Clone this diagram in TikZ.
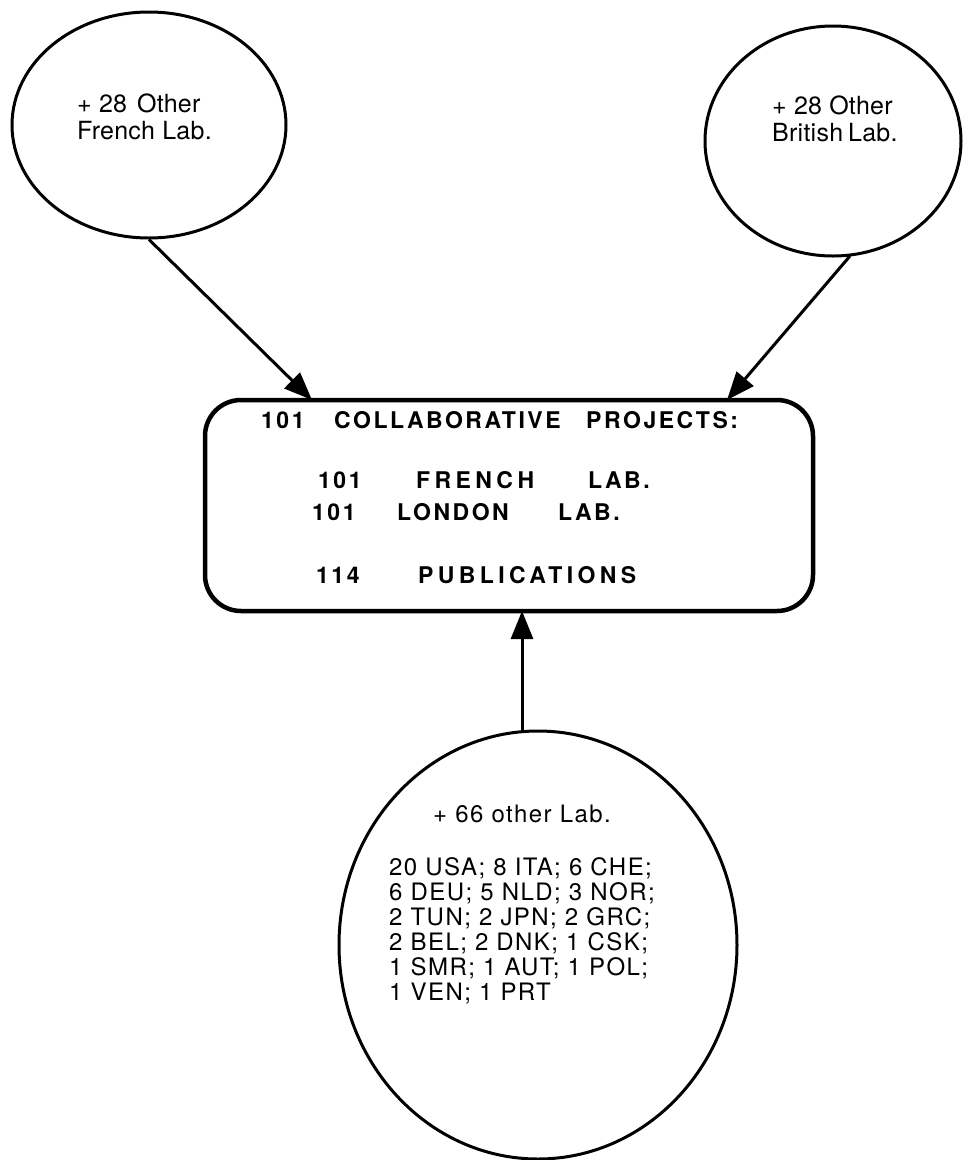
\documentclass[tikz,border=0pt]{standalone}
\usepackage{fontspec}
\setmainfont{TeX Gyre Heros}
\newfontfamily\labfont[LetterSpace=1]{TeX Gyre Heros}
\newfontfamily\listfont[LetterSpace=6]{TeX Gyre Heros}
\newfontfamily\boxfont[LetterSpace=11]{TeX Gyre Heros}
\newcommand{\widespaced}[1]{{\addfontfeature{LetterSpace=19}#1}}
\usetikzlibrary{shapes.geometric,arrows.meta}
\begin{document}
\begin{tikzpicture}[x=1pt,y=-1pt,
  oval/.style={draw, ellipse, line width=3pt, inner sep=0pt},
  projbox/.style={draw, line width=4.5pt, rounded corners=36pt, inner sep=0pt},
  lab/.style={anchor=base west, inner sep=0pt, font=\labfont\fontsize{25}{29}\selectfont},
  lst/.style={anchor=base west, inner sep=0pt, font=\listfont\fontsize{24}{28}\selectfont},
  boxtxt/.style={anchor=base west, inner sep=0pt, font=\boxfont\bfseries\fontsize{23}{27}\selectfont},
  arr/.style={line width=3pt, -{Triangle[length=28pt,width=22pt]}}]
\useasboundingbox (0,0) rectangle (963,1160);
% shapes
\node[oval, minimum width=274pt, minimum height=226pt] (fr) at (149,125) {};
\node[oval, minimum width=256pt, minimum height=230pt] (br) at (833,141) {};
\node[projbox, minimum width=608pt, minimum height=211pt] (box) at (509,505.5) {};
\node[oval, minimum width=398pt, minimum height=428pt] (oth) at (538,945) {};
% arrow end points on the box and on the ellipses
\coordinate (frin) at (312,400);
\coordinate (brin) at (727,400);
\coordinate (brout) at (850,256);
\coordinate (othout) at (522,731);
\coordinate (othin) at (522,611);
% connectors
\draw[arr] (fr.south) -- (frin);
\draw[arr] (brout) -- (brin);
\draw[arr] (othout) -- (othin);
% French ellipse text
\node[lab] (fr1) at (77,112) {+ 28\hspace{10pt}Other};
\node[lab] (fr2) at (77,139) {French Lab.};
% British ellipse text
\node[lab] (br1) at (772,114) {+ 28 Other};
\node[lab] (br2) at (772,141) {British\hspace{5pt}Lab.};
% box text
\node[boxtxt] (b1) at (261,428) {\makebox[73pt][l]{101}\makebox[252pt][l]{COLLABORATIVE}PROJECTS:};
\node[boxtxt] (b2) at (318,488) {\makebox[98pt][l]{101}\makebox[172pt][l]{\widespaced{FRENCH}}LAB.};
\node[boxtxt] (b3) at (312,520) {\makebox[85pt][l]{101}\makebox[161pt][l]{LONDON}LAB.};
\node[boxtxt] (b4) at (316,583) {\makebox[102pt][l]{114}\widespaced{PUBLICATIONS}};
% bottom circle text
\node[lst] (o0) at (433,822) {+ 66 other Lab.};
\node[lst] (o1) at (389,875) {20 USA; 8 ITA; 6 CHE;};
\node[lst] (o2) at (389,900) {6 DEU; 5 NLD; 3 NOR;};
\node[lst] (o3) at (389,925) {2 TUN; 2 JPN; 2 GRC;};
\node[lst] (o4) at (389,950) {2 BEL; 2\hspace{8pt}DNK; 1 CSK;};
\node[lst] (o5) at (389,975) {1 SMR; 1 AUT; 1 POL;};
\node[lst] (o6) at (389,1000) {1 VEN; 1 PRT};
\end{tikzpicture}
\end{document}
